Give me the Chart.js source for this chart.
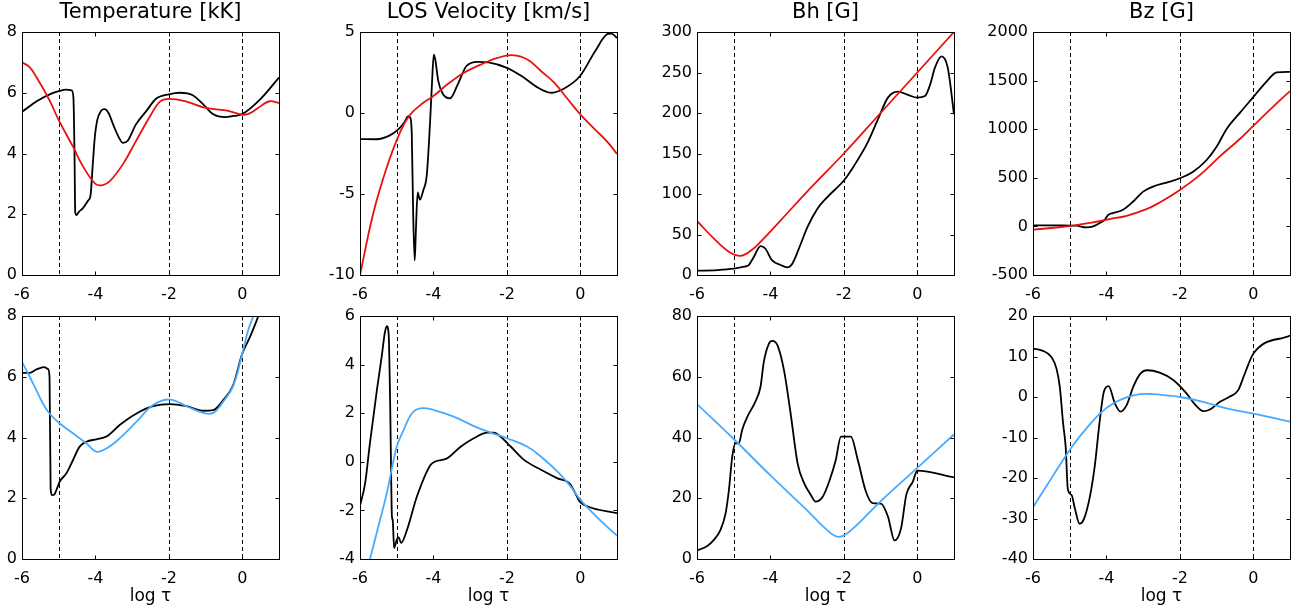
<!DOCTYPE html>
<html>
<head>
<meta charset="utf-8">
<script src="https://cdn.jsdelivr.net/npm/chart.js@4.4.0/dist/chart.umd.min.js"></script>
<style>
  html, body { margin: 0; padding: 0; background: #fff; overflow: hidden; }
  #wrap { position: relative; width: 1303px; height: 615px; overflow: hidden; }
  #wrap canvas { position: absolute; }
</style>
</head>
<body>
<div id="wrap"></div>
<script>
// ---- data ----
const xTickValues = [-6, -4, -2, 0];
const refLines = [-5, -2, 0];

// Temperature [kK], top
const tempTopBlackX = [-6, -5.6, -5.2, -5.0, -4.8, -4.65, -4.6, -4.57, -4.55, -4.52, -4.45, -4.34, -4.2, -4.13, -4.08, -4.02, -3.95, -3.85, -3.75, -3.65, -3.5, -3.35, -3.25, -3.12, -2.9, -2.6, -2.35, -2.0, -1.7, -1.35, -1.05, -0.8, -0.45, -0.2, 0, 0.5, 1];
const tempTopBlackY = [5.37, 5.72, 5.97, 6.05, 6.1, 6.08, 5.85, 4.0, 2.05, 1.97, 2.08, 2.2, 2.45, 2.65, 3.5, 4.5, 5.1, 5.4, 5.46, 5.35, 4.9, 4.5, 4.35, 4.42, 4.95, 5.42, 5.8, 5.95, 6.0, 5.92, 5.6, 5.3, 5.2, 5.24, 5.3, 5.8, 6.5];
const tempTopRedX = [-6, -5.8, -5.6, -5.25, -5.0, -4.6, -4.35, -4.0, -3.8, -3.6, -3.25, -2.9, -2.5, -2.25, -2.0, -1.5, -1.0, -0.45, 0, 0.2, 0.55, 0.75, 1];
const tempTopRedY = [7.0, 6.85, 6.5, 5.75, 5.1, 4.2, 3.6, 3.0, 2.96, 3.1, 3.65, 4.4, 5.25, 5.7, 5.8, 5.7, 5.5, 5.42, 5.28, 5.32, 5.6, 5.72, 5.66];

// LOS Velocity [km/s], top
const velTopBlackX = [-6, -5.55, -5.2, -4.95, -4.8, -4.68, -4.63, -4.59, -4.55, -4.51, -4.48, -4.43, -4.37, -4.28, -4.18, -4.09, -4.04, -3.99, -3.95, -3.87, -3.75, -3.55, -3.35, -3.1, -2.8, -2.5, -2.0, -1.6, -1.15, -0.8, -0.45, 0, 0.4, 0.75, 0.85, 1];
const velTopBlackY = [-1.61, -1.62, -1.4, -1.0, -0.6, -0.2, -0.3, -1.3, -6.4, -9.1, -7.4, -4.9, -5.35, -4.8, -3.8, -0.5, 1.8, 3.6, 3.3, 2.0, 1.2, 0.9, 1.7, 2.9, 3.16, 3.12, 2.79, 2.28, 1.56, 1.25, 1.5, 2.3, 3.8, 4.88, 4.9, 4.63];
const velTopRedX = [-6, -5.64, -5.27, -4.91, -4.65, -4.35, -4.0, -3.6, -3.17, -2.71, -2.26, -1.85, -1.44, -1.07, -0.71, -0.34, 0, 0.39, 0.75, 1];
const velTopRedY = [-10, -6.2, -3.35, -1.2, -0.15, 0.5, 1.05, 1.8, 2.48, 2.99, 3.4, 3.57, 3.3, 2.59, 1.87, 0.85, -0.08, -0.99, -1.81, -2.53];

// Bh [G], top
const bhTopBlackX = [-6, -5.45, -5.0, -4.72, -4.59, -4.45, -4.27, -4.14, -3.96, -3.72, -3.54, -3.4, -3.17, -2.99, -2.72, -2.45, -2.0, -1.72, -1.35, -1.07, -0.8, -0.53, -0.25, 0, 0.21, 0.35, 0.48, 0.66, 0.83, 1];
const bhTopBlackY = [5.3, 6.1, 7.8, 10.2, 12.3, 22.5, 35.6, 32.7, 18.4, 12.3, 9.4, 14.3, 38.9, 59.4, 81.9, 96.2, 116.7, 135, 163.7, 192.4, 219, 226.4, 222.3, 219, 221, 235, 256, 270, 256, 198.5];
const bhTopRedX = [-6, -5.54, -5.09, -4.81, -4.54, -4.27, -3.72, -3.0, -2.0, -1.0, 0, 1];
const bhTopRedY = [66.7, 45, 27.4, 23.7, 29.9, 40.9, 67.5, 103, 150, 200, 250, 300];

// Bz [G], top
const bzTopBlackX = [-6, -5.27, -4.82, -4.55, -4.36, -4.18, -4.05, -3.95, -3.82, -3.55, -3.27, -3.0, -2.73, -2.36, -2.0, -1.64, -1.27, -1.0, -0.73, -0.36, 0, 0.36, 0.64, 1];
const bzTopBlackY = [10, 10, 7, -10, 0, 34, 68, 119, 137, 171, 256, 358, 410, 451, 495, 563, 683, 819, 1000, 1170, 1330, 1490, 1584, 1590];
const bzTopRedX = [-6, -5.45, -5.0, -4.36, -3.91, -3.45, -2.91, -2.55, -2.0, -1.45, -0.91, -0.36, 0, 0.55, 1];
const bzTopRedY = [-34, -14, 3, 41, 75, 109, 177, 246, 375, 530, 720, 902, 1035, 1235, 1392];

// Temperature, bottom
const tempBotBlackX = [-6, -5.79, -5.61, -5.4, -5.29, -5.25, -5.22, -5.18, -5.12, -5.06, -4.97, -4.79, -4.61, -4.43, -4.25, -3.97, -3.7, -3.34, -2.88, -2.43, -1.97, -1.52, -1.06, -0.79, -0.52, -0.25, 0, 0.21, 0.44, 0.7];
const tempBotBlackY = [6.13, 6.13, 6.24, 6.32, 6.25, 6.0, 2.3, 2.1, 2.12, 2.28, 2.55, 2.82, 3.26, 3.7, 3.86, 3.94, 4.03, 4.41, 4.79, 5.03, 5.1, 5.03, 4.88, 4.9, 5.23, 5.72, 6.76, 7.31, 8.0, 8.8];
const tempBotBlueX = [-6, -5.79, -5.61, -5.43, -5.25, -4.97, -4.61, -4.25, -3.97, -3.7, -3.34, -2.88, -2.43, -1.97, -1.52, -1.06, -0.79, -0.52, -0.25, 0, 0.16, 0.3, 0.45];
const tempBotBlueY = [6.49, 6.0, 5.56, 5.12, 4.79, 4.46, 4.14, 3.81, 3.53, 3.64, 3.97, 4.52, 5.07, 5.25, 5.03, 4.81, 4.81, 5.18, 5.69, 6.76, 7.53, 8.0, 8.6];

// LOS Velocity, bottom
const velBotBlackX = [-6, -5.86, -5.73, -5.54, -5.41, -5.32, -5.27, -5.22, -5.18, -5.13, -5.11, -5.07, -5.0, -4.95, -4.88, -4.72, -4.45, -4.08, -3.95, -3.63, -3.26, -2.9, -2.53, -2.35, -2.17, -1.89, -1.53, -1.07, -0.62, -0.3, -0.16, -0.02, 0.2, 1];
const velBotBlackY = [-1.81, -0.88, 0.76, 2.95, 4.32, 5.34, 5.58, 5.27, 2.54, -2.25, -2.39, -3.55, -3.21, -3.1, -3.34, -2.8, -1.43, -0.13, 0.01, 0.14, 0.62, 0.97, 1.2, 1.2, 1.03, 0.62, 0.08, -0.33, -0.68, -0.88, -1.22, -1.63, -1.84, -2.11];
const velBotBlueX = [-5.85, -5.73, -5.5, -5.27, -5.0, -4.81, -4.59, -4.36, -3.99, -3.45, -2.9, -2.44, -2.0, -1.44, -1.07, -0.62, -0.26, 0, 0.48, 1];
const velBotBlueY = [-4.6, -4.0, -2.66, -1.29, 0.62, 1.31, 1.99, 2.2, 2.13, 1.86, 1.47, 1.2, 0.97, 0.62, 0.21, -0.4, -1.02, -1.56, -2.32, -3.04];

// Bh, bottom
const bhBotBlackX = [-6, -5.73, -5.54, -5.36, -5.22, -5.13, -5.04, -4.95, -4.86, -4.77, -4.63, -4.41, -4.27, -4.18, -4.04, -3.95, -3.81, -3.63, -3.45, -3.26, -3.08, -2.9, -2.77, -2.58, -2.4, -2.22, -2.08, -1.81, -1.62, -1.4, -1.22, -0.99, -0.8, -0.62, -0.44, -0.3, -0.12, 0, 1];
const bhBotBlackY = [2.8, 4.2, 6.3, 9.6, 15.1, 22.8, 33.7, 38.1, 38.1, 42.5, 46.8, 51.8, 56.7, 64.9, 70.9, 71.8, 70.4, 62.1, 47.9, 31.5, 24.9, 21.1, 18.9, 20.4, 25.5, 32.6, 40.3, 40.3, 32.6, 22.2, 18.4, 18.2, 14.0, 6.1, 10.2, 21.1, 25.5, 29.1, 26.9];
const bhBotBlueX = [-6, -5, -4, -3, -2.5, -2.15, -1.8, -1, 0, 1];
const bhBotBlueY = [51, 39.5, 27.5, 16, 10, 7.3, 9.5, 19, 30, 41];

// Bz, bottom
const bzBotBlackX = [-6, -5.73, -5.5, -5.36, -5.27, -5.18, -5.11, -5.05, -4.95, -4.86, -4.73, -4.62, -4.45, -4.32, -4.18, -4.07, -3.94, -3.77, -3.62, -3.45, -3.27, -3.09, -2.89, -2.55, -2.18, -1.82, -1.59, -1.36, -1.18, -0.91, -0.64, -0.41, -0.23, 0, 1];
const bzBotBlackY = [11.95, 11.4, 9.9, 7.0, 2.5, -6.5, -12.3, -22.9, -24.2, -27.5, -31.3, -30.3, -24.6, -17.2, -5.7, 1.3, 2.7, -1.6, -3.6, -2.0, 2.5, 5.6, 6.6, 6.0, 4.2, 0.9, -1.8, -3.5, -3.1, -1.2, 0.1, 1.7, 5.8, 10.7, 15.2];
const bzBotBlueX = [-6, -5.64, -5.27, -4.91, -4.55, -4.18, -3.82, -3.45, -3.09, -2.73, -2.36, -2.0, -1.45, -0.73, 0, 1];
const bzBotBlueY = [-27.2, -22.1, -16.8, -11.9, -7.8, -4.1, -1.6, -0.1, 0.7, 0.7, 0.4, 0.0, -1.0, -2.8, -4.1, -6.1];

const titles = ['Temperature [kK]', 'LOS Velocity [km/s]', 'Bh [G]', 'Bz [G]'];
const yTicksTop = [[0, 2, 4, 6, 8], [-10, -5, 0, 5], [0, 50, 100, 150, 200, 250, 300], [-500, 0, 500, 1000, 1500, 2000]];
const yTicksBot = [[0, 2, 4, 6, 8], [-4, -2, 0, 2, 4, 6], [0, 20, 40, 60, 80], [-40, -30, -20, -10, 0, 10, 20]];

// ---- layout ----
const RED = '#e8120c';
const BLUE = '#48aaff';
const FONT = 'DejaVu Sans';
const plotLefts = [22, 360, 697, 1033];
const yAxisW = 60;

const pts = (xs, ys) => xs.map((x, i) => ({ x, y: ys[i] }));

const panels = [
  { row: 0, col: 0, ticks: yTicksTop[0], color: RED, colX: tempTopRedX, colY: tempTopRedY, bX: tempTopBlackX, bY: tempTopBlackY },
  { row: 0, col: 1, ticks: yTicksTop[1], color: RED, colX: velTopRedX, colY: velTopRedY, bX: velTopBlackX, bY: velTopBlackY },
  { row: 0, col: 2, ticks: yTicksTop[2], color: RED, colX: bhTopRedX, colY: bhTopRedY, bX: bhTopBlackX, bY: bhTopBlackY },
  { row: 0, col: 3, ticks: yTicksTop[3], color: RED, colX: bzTopRedX, colY: bzTopRedY, bX: bzTopBlackX, bY: bzTopBlackY },
  { row: 1, col: 0, ticks: yTicksBot[0], color: BLUE, colX: tempBotBlueX, colY: tempBotBlueY, bX: tempBotBlackX, bY: tempBotBlackY },
  { row: 1, col: 1, ticks: yTicksBot[1], color: BLUE, colX: velBotBlueX, colY: velBotBlueY, bX: velBotBlackX, bY: velBotBlackY },
  { row: 1, col: 2, ticks: yTicksBot[2], color: BLUE, colX: bhBotBlueX, colY: bhBotBlueY, bX: bhBotBlackX, bY: bhBotBlackY },
  { row: 1, col: 3, ticks: yTicksBot[3], color: BLUE, colX: bzBotBlueX, colY: bzBotBlueY, bX: bzBotBlackX, bY: bzBotBlackY }
];

// dashed reference lines, box and inward ticks like the original plot
const framePlugin = {
  id: 'frame',
  beforeDatasetsDraw(chart) {
    const { ctx, chartArea: a, scales: { x } } = chart;
    ctx.save();
    ctx.strokeStyle = '#000';
    ctx.lineWidth = 1;
    ctx.setLineDash([4, 3]);
    refLines.forEach(v => {
      const px = Math.round(x.getPixelForValue(v)) + 0.5;
      ctx.beginPath();
      ctx.moveTo(px, a.top);
      ctx.lineTo(px, a.bottom);
      ctx.stroke();
    });
    ctx.restore();
  },
  afterDraw(chart) {
    const { ctx, chartArea: a, scales: { x, y } } = chart;
    const L = Math.round(a.left) + 0.5, R = Math.round(a.right) + 0.5;
    const T = Math.round(a.top) + 0.5, B = Math.round(a.bottom) + 0.5;
    ctx.save();
    ctx.strokeStyle = '#000';
    ctx.lineWidth = 1;
    ctx.beginPath();
    xTickValues.forEach(v => {
      const px = Math.round(x.getPixelForValue(v)) + 0.5;
      ctx.moveTo(px, B); ctx.lineTo(px, B - 4);
      ctx.moveTo(px, T); ctx.lineTo(px, T + 4);
    });
    y.ticks.forEach(t => {
      const py = Math.round(y.getPixelForValue(t.value)) + 0.5;
      ctx.moveTo(L, py); ctx.lineTo(L + 4, py);
      ctx.moveTo(R, py); ctx.lineTo(R - 4, py);
    });
    ctx.stroke();
    ctx.strokeRect(L, T, R - L, B - T);
    ctx.restore();
  }
};

const wrap = document.getElementById('wrap');

panels.forEach(p => {
  const canvas = document.createElement('canvas');
  const top = p.row === 0 ? 0 : 284;
  const height = p.row === 0 ? 303 : 331;
  const width = 337;
  canvas.width = width;
  canvas.height = height;
  canvas.style.left = (plotLefts[p.col] - yAxisW) + 'px';
  canvas.style.top = top + 'px';
  canvas.style.width = width + 'px';
  canvas.style.height = height + 'px';
  wrap.appendChild(canvas);

  const xAxisH = p.row === 0 ? 28 : 56;
  const tickFont = { family: FONT, size: 16 };

  new Chart(canvas.getContext('2d'), {
    type: 'line',
    data: {
      datasets: [
        {
          // fitted model curve: smooth
          data: pts(p.colX, p.colY),
          borderColor: p.color,
          borderWidth: 1.8,
          pointRadius: 0,
          tension: 0.4,
          fill: false
        },
        {
          data: pts(p.bX, p.bY),
          borderColor: '#000',
          borderWidth: 1.8,
          pointRadius: 0,
          cubicInterpolationMode: 'monotone',
          fill: false
        }
      ]
    },
    options: {
      responsive: false,
      animation: false,
      devicePixelRatio: 1,
      events: [],
      layout: { padding: { top: p.row === 0 ? 0 : 32, right: 20, left: 0, bottom: 0 } },
      plugins: {
        legend: { display: false },
        tooltip: { enabled: false },
        title: {
          display: p.row === 0,
          text: titles[p.col],
          fullSize: false,
          color: '#000',
          font: { family: FONT, size: 21, weight: 'normal', lineHeight: '24px' },
          padding: { top: 1, bottom: 7 }
        }
      },
      scales: {
        x: {
          type: 'linear',
          min: -6,
          max: 1,
          afterBuildTicks: s => { s.ticks = xTickValues.map(v => ({ value: v })); },
          afterFit: s => { s.height = xAxisH; },
          grid: { display: false, drawTicks: false },
          border: { display: false },
          ticks: { color: '#000', font: tickFont, padding: 10, maxRotation: 0, autoSkip: false, callback: v => String(v) },
          title: {
            display: p.row === 1,
            text: 'log τ',
            color: '#000',
            font: { family: FONT, size: 17 },
            padding: { top: 0, bottom: 8 }
          }
        },
        y: {
          type: 'linear',
          min: p.ticks[0],
          max: p.ticks[p.ticks.length - 1],
          afterBuildTicks: s => { s.ticks = p.ticks.map(v => ({ value: v })); },
          afterFit: s => { s.width = yAxisW; },
          grid: { display: false, drawTicks: false },
          border: { display: false },
          ticks: { color: '#000', font: tickFont, padding: 5, autoSkip: false, callback: v => String(v) }
        }
      }
    },
    plugins: [framePlugin]
  });
});
</script>
</body>
</html>
